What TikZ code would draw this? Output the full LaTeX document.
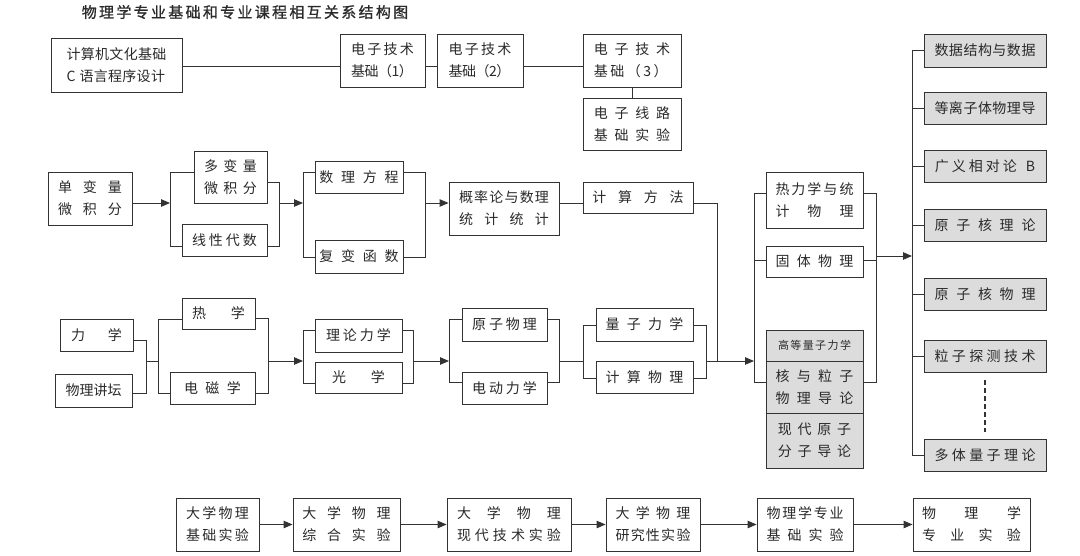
\documentclass[tikz,border=0pt]{standalone}
\usepackage{fontspec}
\setmainfont{Noto Sans CJK SC}
\newfontfamily\titlef[FakeBold=1]{Noto Sans CJK SC}
\usetikzlibrary{arrows.meta}
\definecolor{linec}{HTML}{333333}
\definecolor{txtc}{HTML}{2A2A2A}
\definecolor{greyf}{HTML}{DCDCDC}
\newdimen\lsadj \lsadj=1pt
\ExplSyntaxOn
\NewDocumentCommand\ls{mm}{\tl_map_inline:nn{#2}{##1\hspace{\dimexpr #1pt-\lsadj\relax}}\unskip}
\ExplSyntaxOff
\newcommand\bx[7][]{\pgfmathsetmacro\bw{#4-#2}\pgfmathsetmacro\bh{#5-#3}%
  \node[box,#1,minimum width=\bw pt,minimum height=\bh pt] (#6) at ({(#2+#4)/2},{(#3+#5)/2}) {#7};}
\tikzset{
  box/.style={draw=linec,line width=0.9pt,fill=white,inner sep=0pt,align=center,
    font=\fontsize{14}{22}\selectfont,text=txtc},
  gbox/.style={fill=greyf},
  ln/.style={draw=linec,line width=0.9pt},
  arr/.style={ln,-{Triangle[length=9pt,width=7.5pt]}}
}
\begin{document}
\begin{tikzpicture}[x=1pt,y=-1pt]
\useasboundingbox[fill=white] (0,0) rectangle (1080,555);
\node[font=\titlef\fontsize{15}{18}\selectfont,text=txtc] (title) at (245,12) {\ls{3.3}{物理学专业基础和专业课程相互关系结构图}};
% top row
\bx[align=left]{51}{38}{182}{92}{jsj}{\ls{1.3}{计算机文化基础}\\C\hspace{4pt}\ls{1.3}{语言程序设计}}
\bx[align=left]{340}{34}{425}{87}{dz1}{\ls{3.3}{电子技术}\\\ls{0.5}{基础（1）}}
\bx[align=left]{437}{34}{523}{87}{dz2}{\ls{3.3}{电子技术}\\\ls{0.5}{基础（2）}}
\bx[align=left]{583}{34}{681}{87}{dz3}{\ls{7.7}{电子技术}\\\ls{3.5}{基础（3）}}
\bx{583}{98}{681}{150}{dzx}{\ls{7.7}{电子线路}\\\ls{7.7}{基础实验}}
% row 2
\bx{48}{172}{132}{225}{dan}{\ls{12}{单变量}\\\ls{12}{微积分}}
\bx{194}{151}{267}{203}{duo}{\ls{6.5}{多变量}\\\ls{6.5}{微积分}}
\bx{182}{224}{267}{256}{xx}{\ls{4}{线性代数}}
\bx{315}{161}{403}{193}{slfc}{\ls{8.7}{数理方程}}
\bx{315}{240}{403}{273}{fb}{\ls{8.7}{复变函数}}
\bx{449}{182}{559}{235}{gl}{\ls{2.2}{概率论与数理}\\\ls{12.3}{统计统计}}
\bx{583}{182}{693}{213}{jsff}{\ls{12.7}{计算方法}}
\bx{766}{172}{863}{228}{rl}{\ls{3}{热力学与统}\\\ls{19}{计物理}}
\bx{766}{246}{863}{277}{gt}{\ls{8.3}{固体物理}}
\bx[gbox,font=\fontsize{11}{13}\selectfont]{766}{330}{863}{361}{gd}{\ls{2.4}{高等量子力学}}
\bx[gbox]{766}{361}{863}{413}{hy}{\ls{8.3}{核与粒子}\\\ls{8.3}{物理导论}}
\bx[gbox]{766}{413}{863}{468}{xd}{\ls{6.7}{现代原子}\\\ls{6.7}{分子导论}}
% row 3
\bx{60}{319}{133}{351}{lx}{\ls{24}{力学}}
\bx{55}{374}{132}{407}{wljt}{\ls{1}{物理讲坛}}
\bx{182}{298}{255}{329}{rx}{\ls{26}{热学}}
\bx{170}{372}{255}{404}{dc}{\ls{8.5}{电磁学}}
\bx{315}{319}{402}{352}{lllx}{\ls{4}{理论力学}}
\bx{315}{362}{402}{393}{gx}{\ls{26}{光学}}
\bx{462}{308}{547}{341}{yz}{\ls{4}{原子物理}}
\bx{462}{372}{547}{404}{dd}{\ls{4}{电动力学}}
\bx{596}{308}{693}{341}{lz}{\ls{8.3}{量子力学}}
\bx{596}{361}{693}{393}{jswl}{\ls{8.3}{计算物理}}
% right column
\bx[gbox]{924}{34}{1046}{67}{r1}{\ls{1.5}{数据结构与数据}}
\bx[gbox]{924}{92}{1046}{124}{r2}{\ls{1.5}{等离子体物理导}}
\bx[gbox]{924}{150}{1046}{182}{r3}{\ls{4}{广义相对论}\hspace{9pt}B}
\bx[gbox]{924}{209}{1046}{241}{r4}{\ls{8.75}{原子核理论}}
\bx[gbox]{924}{278}{1046}{310}{r5}{\ls{8.75}{原子核物理}}
\bx[gbox]{924}{340}{1046}{372}{r6}{\ls{4.4}{粒子探测技术}}
\bx[gbox]{924}{439}{1046}{471}{r7}{\ls{4.4}{多体量子理论}}
% bottom row
\bx{176}{498}{259}{551}{e1}{\ls{3.3}{大学物理}\\\ls{3.3}{基础实验}}
\bx{293}{498}{400}{551}{e2}{\ls{11.7}{大学物理}\\\ls{11.7}{综合实验}}
\bx{447}{498}{571}{551}{e3}{\ls{17}{大学物理}\\\ls{5}{现代技术实验}}
\bx{606}{498}{700}{551}{e4}{\ls{7.3}{大学物理}\\\ls{2.25}{研究性实验}}
\bx{757}{498}{853}{551}{e5}{\ls{2.75}{物理学专业}\\\ls{8}{基础实验}}
\bx{913}{498}{1030}{551}{e6}{\ls{29.5}{物理学}\\\ls{15.3}{专业实验}}
% junction coordinates
\coordinate (t0) at (0,66);
\coordinate (a1) at (170,203); \coordinate (a1t) at (170,172); \coordinate (a1b) at (170,246);
\coordinate (a2) at (279,203); \coordinate (a2t) at (279,182); \coordinate (a2b) at (279,246);
\coordinate (a3) at (303,203); \coordinate (a3t) at (303,172); \coordinate (a3b) at (303,257);
\coordinate (a4) at (425,203); \coordinate (a4t) at (425,172); \coordinate (a4b) at (425,257);
\coordinate (k1) at (717,203); \coordinate (k2) at (717,361);
\coordinate (b1) at (146,361); \coordinate (b1t) at (146,340); \coordinate (b1b) at (146,393);
\coordinate (b2) at (158,361); \coordinate (b2t) at (158,319); \coordinate (b2b) at (158,393);
\coordinate (b3) at (268,361); \coordinate (b3t) at (268,318); \coordinate (b3b) at (268,393);
\coordinate (b4) at (303,361); \coordinate (b4t) at (303,330); \coordinate (b4b) at (303,383);
\coordinate (b5) at (413,361); \coordinate (b5t) at (413,330); \coordinate (b5b) at (413,383);
\coordinate (b6) at (449,361); \coordinate (b6t) at (449,319); \coordinate (b6b) at (449,382);
\coordinate (b7) at (559,361); \coordinate (b7t) at (559,319); \coordinate (b7b) at (559,382);
\coordinate (b8) at (583,361); \coordinate (b8t) at (583,325); \coordinate (b8b) at (583,378);
\coordinate (b9) at (706,361); \coordinate (b9t) at (706,325); \coordinate (b9b) at (706,378);
\coordinate (c0) at (754,361); \coordinate (c0t) at (754,193); \coordinate (c0m) at (754,260); \coordinate (c0b) at (754,382);
\coordinate (c1) at (876,256); \coordinate (c1t) at (876,193); \coordinate (c1m) at (876,260); \coordinate (c1b) at (876,382);
\coordinate (d0) at (912,256);
% top connectors
\draw[ln] (jsj.east |- t0) -- (dz1.west |- t0);
\draw[ln] (dz1.east |- t0) -- (dz2.west |- t0);
\draw[ln] (dz2.east |- t0) -- (dz3.west |- t0);
\draw[ln] (dz3.south) -- (dzx.north);
% row 2 connectors
\draw[arr] (dan.east |- a1) -- (a1);
\draw[ln] (duo.west |- a1t) -- (a1t) -- (a1b) -- (xx.west |- a1b);
\draw[ln] (duo.east |- a2t) -- (a2t) -- (a2b) -- (xx.east |- a2b);
\draw[arr] (a2) -- (a3);
\draw[ln] (slfc.west |- a3t) -- (a3t) -- (a3b) -- (fb.west |- a3b);
\draw[ln] (slfc.east |- a4t) -- (a4t) -- (a4b) -- (fb.east |- a4b);
\draw[arr] (a4) -- (gl.west |- a4);
\draw[ln] (gl.east |- a4) -- (jsff.west |- a4);
\draw[ln] (jsff.east |- a4) -- (k1) -- (k2);
% row 3 connectors
\draw[ln] (lx.east |- b1t) -- (b1t) -- (b1b) -- (wljt.east |- b1b);
\draw[ln] (b1) -- (b2);
\draw[ln] (rx.west |- b2t) -- (b2t) -- (b2b) -- (dc.west |- b2b);
\draw[ln] (rx.east |- b3t) -- (b3t) -- (b3b) -- (dc.east |- b3b);
\draw[arr] (b3) -- (b4);
\draw[ln] (lllx.west |- b4t) -- (b4t) -- (b4b) -- (gx.west |- b4b);
\draw[ln] (lllx.east |- b5t) -- (b5t) -- (b5b) -- (gx.east |- b5b);
\draw[arr] (b5) -- (b6);
\draw[ln] (yz.west |- b6t) -- (b6t) -- (b6b) -- (dd.west |- b6b);
\draw[ln] (yz.east |- b7t) -- (b7t) -- (b7b) -- (dd.east |- b7b);
\draw[ln] (b7) -- (b8);
\draw[ln] (lz.west |- b8t) -- (b8t) -- (b8b) -- (jswl.west |- b8b);
\draw[ln] (lz.east |- b9t) -- (b9t) -- (b9b) -- (jswl.east |- b9b);
\draw[arr] (b9) -- (c0);
% right group
\draw[ln] (rl.west |- c0t) -- (c0t) -- (c0b) -- (hy.west |- c0b);
\draw[ln] (c0m) -- (gt.west |- c0m);
\draw[ln] (rl.east |- c1t) -- (c1t) -- (c1b) -- (hy.east |- c1b);
\draw[ln] (gt.east |- c1m) -- (c1m);
\draw[arr] (c1) -- (d0);
\draw[ln] (r1.west) -- (r1.west -| d0) -- (r7.west -| d0) -- (r7.west);
\foreach \r in {r2,r3,r4,r5,r6} \draw[ln] (\r.west -| d0) -- (\r.west);
\draw[ln,line width=1.3pt,dash pattern=on 5pt off 3pt] ([yshift=-8pt]r6.south) -- ([yshift=7pt]r7.north);
% bottom row
\draw[arr] (e1) -- (e2);
\draw[arr] (e2) -- (e3);
\draw[arr] (e3) -- (e4);
\draw[arr] (e4) -- (e5);
\draw[arr] (e5) -- (e6);
\end{tikzpicture}
\end{document}
